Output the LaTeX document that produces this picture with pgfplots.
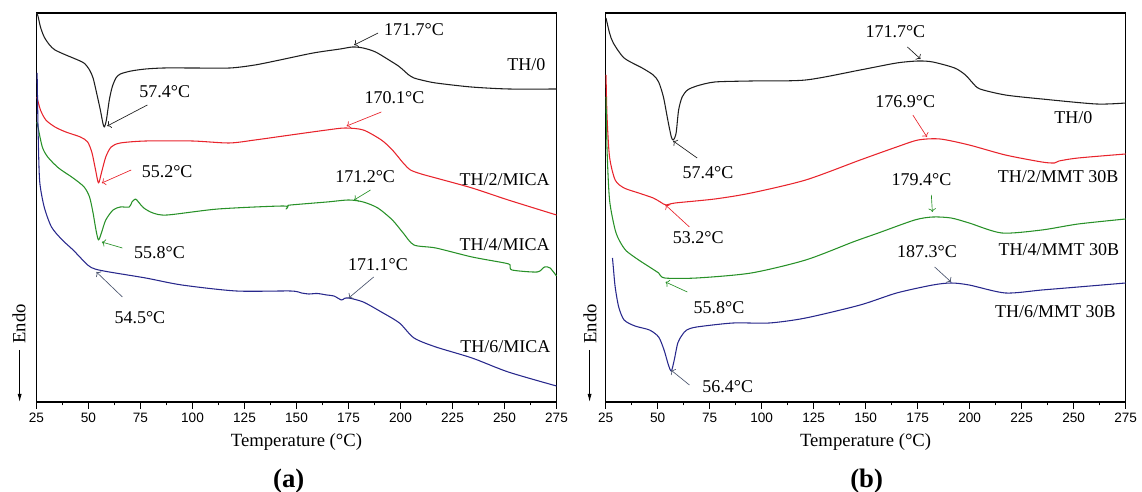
\documentclass[border=0pt]{standalone}
\usepackage{fontspec}
\setmainfont{Liberation Serif}
\newfontfamily\arialfont{Liberation Sans}
\usepackage{pgfplots}
\pgfplotsset{compat=1.18}
\usetikzlibrary{arrows.meta}
\definecolor{cblack}{RGB}{30,30,30}
\definecolor{cred}{RGB}{232,36,44}
\definecolor{cgreen}{RGB}{40,145,40}
\definecolor{cblue}{RGB}{40,40,140}
\definecolor{cgray}{RGB}{75,85,110}
\newcommand\annfont{\fontsize{13.5}{16}\selectfont}
\tikzset{ann/.style={font=\annfont}}
\pgfplotsset{
  dsc/.style={
    scale only axis, width=390pt, height=291.75pt,
    xmin=25, xmax=275, ymin=0, ymax=389,
    xtick={25,50,...,275}, minor x tick num=1,
    ytick=\empty, xtick pos=bottom,
    tick align=outside,
    major tick length=5pt, minor tick length=2.5pt,
    /pgf/number format/assume math mode=true,
    xticklabel style={font=\arialfont\fontsize{10.2}{12}\selectfont},
    xlabel={Temperature (°C)},
    xlabel style={font=\fontsize{14}{16}\selectfont, at={(axis description cs:0.5,0)}, anchor=center, yshift=-29.8pt},
    axis line style={line width=0.8pt},
    every tick/.style={line width=0.8pt, black},
    clip=false,
    every axis plot/.append style={line width=0.8pt, line join=round, smooth, tension=0.45},
    anchor=south west,
  },
}
\begin{document}
\begin{tikzpicture}
\path[use as bounding box] (0,0) rectangle (856.5pt,369pt);
% ---------------- (a) ----------------
\begin{axis}[dsc, at={(27.375pt,67.5pt)}]
\addplot[cblack] coordinates {(25.0,389)(25.7,386)(26.9,375)(28.7,365)(31.3,357)(33.9,352)(39.1,347)(42.6,344)(47.8,339)(50.5,332)(52.2,324)(53.9,309)(55.7,292)(56.9,279)(57.6,275)(58.6,282)(60.0,302)(61.4,315)(63.2,324)(65.3,328)(70.5,331)(77.5,333)(86.2,334)(100,334)(118,334)(130,337)(142,342)(158,349)(171,353)(177,355)(182,354)(188,350)(196,340)(199,336)(201.3,332)(204,327)(206.5,324)(210,322)(217,319)(234,315)(252,313)(275,313)};
\addplot[cred] coordinates {(25.2,305)(26.9,292)(29.5,282)(33.9,275)(39.1,270)(46.1,265)(49.6,260)(51.7,249)(53.4,232)(54.8,219)(56.2,229)(58.3,245)(60.9,255)(65.3,259)(77.5,261)(100,261)(117.6,259)(130,262)(147.2,267)(164.6,272)(173.4,274)(182.1,272)(190.8,262)(196.1,252)(201.3,239)(204.8,232)(210,228)(217,224)(234.4,214)(251.8,202)(275,187)};
\addplot[cgreen] coordinates {(25.2,280)(25.7,275)(27.8,255)(30.4,245)(35.6,234)(42.6,224)(47.9,215)(50.5,205)(52.2,189)(53.6,172)(54.8,162)(56.2,169)(58.3,182)(61.8,192)(65.3,195)(69.6,195)(70.9,200)(72.6,203)(74.0,200)(76.6,194)(81.0,189)(87.9,187)(112.3,193)(143.7,196)(145,193)(146,196)(147.2,197)(164.6,200)(175.1,202)(182.1,200)(189.1,194)(196.1,182)(201.3,169)(206.5,157)(217,154)(234.4,145)(250.1,139)(252.7,137)(253.6,132)(265.7,130)(269.2,135)(271.9,134)(275,126)};
\addplot[cblue] coordinates {(25.3,329)(25.6,290)(26.0,250)(26.6,219)(28.7,195)(32.2,175)(37.4,162)(42.6,152)(49.6,137)(53.1,133)(60,130)(77.5,124)(94.9,117)(121.1,111)(147.2,111)(152.4,109)(155.9,108)(160,108.5)(164.6,107)(168,106)(171.6,102)(173,103.5)(175.1,104)(182.1,100)(190.8,90)(199.5,79)(206.5,64)(217,55)(234.4,44)(251.8,30)(275,16)};
% labels
\node[ann] at (axis cs:260.5,337) {TH/0};
\node[ann] at (axis cs:250.1,222) {TH/2/MICA};
\node[ann] at (axis cs:250.1,157) {TH/4/MICA};
\node[ann] at (axis cs:250.4,55) {TH/6/MICA};
\node[ann] at (axis cs:206.5,372) {171.7°C};
\draw[->,cblack,line width=0.5pt] (axis cs:189.2,369) -- (axis cs:177.7,357);
\node[ann] at (axis cs:86.7,310) {57.4°C};
\draw[->,cblack,line width=0.5pt] (axis cs:78.3,297) -- (axis cs:59.0,276);
\node[ann] at (axis cs:197.1,304) {170.1°C};
\draw[->,cred,line width=0.5pt] (axis cs:190.8,290) -- (axis cs:174.1,276);
\node[ann] at (axis cs:87.8,230) {55.2°C};
\draw[->,cred,line width=0.5pt] (axis cs:70.5,232) -- (axis cs:56.4,219);
\node[ann] at (axis cs:183.0,225) {171.2°C};
\draw[->,cgreen,line width=0.5pt] (axis cs:185.6,212) -- (axis cs:177.7,202);
\node[ann] at (axis cs:84.1,149) {55.8°C};
\draw[->,cgreen,line width=0.5pt] (axis cs:66.3,154) -- (axis cs:56.4,160);
\node[ann] at (axis cs:189.2,137) {171.1°C};
\draw[->,cgray,line width=0.5pt] (axis cs:187.1,125) -- (axis cs:175.1,104);
\node[ann] at (axis cs:74.7,84) {54.5°C};
\draw[->,cgray,line width=0.5pt] (axis cs:66.3,105) -- (axis cs:53.8,130);
% endo
\node[rotate=90,font=\fontsize{14}{16}\selectfont] at (axis cs:16.6,78) {Endo};
\draw[-{Latex[length=6pt,width=3pt]},line width=0.6pt] (axis cs:16.9,52) -- (axis cs:16.9,0);
\node[font=\bfseries\fontsize{20}{22}\selectfont] at (axis description cs:0.485,0) [yshift=-59.25pt] {(a)};
\end{axis}
% ---------------- (b) ----------------
\begin{axis}[dsc, at={(454.2pt,67.5pt)}]
\addplot[cblack] coordinates {(25.2,384)(26.9,369)(28.7,359)(33.9,344)(42.6,334)(47.9,327)(50.5,320)(52.8,305)(54.9,282)(56.6,265)(57.6,262)(58.9,269)(60.1,292)(61.8,305)(64.4,312)(68.8,316)(77.5,320)(95,321)(121.2,322)(147.4,332)(164.9,339)(175.3,341)(182.3,340)(192.8,334)(198,327)(201.5,319)(205,313)(217.2,307)(234.7,303)(260.9,298)(275,299)};
\addplot[cred] coordinates {(25.2,327)(25.7,285)(26.9,245)(29.6,222)(33.9,214)(40.9,209)(47.9,204)(51.3,200)(54.0,197)(58.4,199)(77.5,203)(95,209)(121.2,222)(147.4,242)(164.9,255)(175.3,262)(185.8,263)(199.8,257)(217.2,247)(234.7,240)(240.8,239)(243,241)(252.2,244)(275,248)};
\addplot[cgreen] coordinates {(25.2,305)(25.7,252)(26.9,202)(29.6,172)(32,160)(35,151)(40.9,142)(46.1,135)(50.5,129)(53.4,124)(68.8,124)(95,129)(121.2,142)(143.9,160)(156.1,169)(173.6,182)(182.3,185)(191.1,184)(199.8,179)(215.5,169)(234.7,172)(252.2,178)(275,183)};
\addplot[cblue] coordinates {(28.3,144)(28.7,135)(29.6,115)(31.3,95)(33.9,82)(39.1,76)(46.1,72)(50.5,65)(53.1,52)(55.2,37)(56.6,31)(58.0,42)(59.7,59)(61.8,67)(64,72)(68.8,75)(86.3,79)(103.7,79)(121.2,84)(147.4,97)(164.9,109)(182.3,117)(191.1,119)(199.8,117)(217.2,109)(234.7,112)(252.2,115)(275,119)};
\node[ann] at (axis cs:249.9,284) {TH/0};
\node[ann] at (axis cs:242.6,225) {TH/2/MMT 30B};
\node[ann] at (axis cs:242.9,152) {TH/4/MMT 30B};
\node[ann] at (axis cs:241.2,90) {TH/6/MMT 30B};
\node[ann] at (axis cs:164.3,370) {171.7°C};
\draw[->,cblack,line width=0.5pt] (axis cs:170.1,355) -- (axis cs:176.4,343);
\node[ann] at (axis cs:74.2,229) {57.4°C};
\draw[->,cblack,line width=0.5pt] (axis cs:69.0,244) -- (axis cs:57.5,261);
\node[ann] at (axis cs:169.1,300) {176.9°C};
\draw[->,cred,line width=0.5pt] (axis cs:172.7,287) -- (axis cs:179.5,265);
\node[ann] at (axis cs:69.5,164) {53.2°C};
\draw[->,cred,line width=0.5pt] (axis cs:65.3,175) -- (axis cs:53.8,197);
\node[ann] at (axis cs:176.9,222) {179.4°C};
\draw[->,cgreen,line width=0.5pt] (axis cs:181.6,207) -- (axis cs:182.1,190);
\node[ann] at (axis cs:79.5,94) {55.8°C};
\draw[->,cgreen,line width=0.5pt] (axis cs:64.3,110) -- (axis cs:53.8,120);
\node[ann] at (axis cs:179.5,150) {187.3°C};
\draw[->,cgray,line width=0.5pt] (axis cs:183.2,135) -- (axis cs:191.1,120);
\node[ann] at (axis cs:83.7,15) {56.4°C};
\draw[->,cgray,line width=0.5pt] (axis cs:65.3,17) -- (axis cs:56.4,32);
\node[rotate=90,font=\fontsize{14}{16}\selectfont] at (axis cs:17.5,78) {Endo};
\draw[-{Latex[length=6pt,width=3pt]},line width=0.6pt] (axis cs:17.3,52) -- (axis cs:17.3,0);
\node[font=\bfseries\fontsize{20}{22}\selectfont] at (axis description cs:0.502,0) [yshift=-59.25pt] {(b)};
\end{axis}
\end{tikzpicture}
\end{document}
